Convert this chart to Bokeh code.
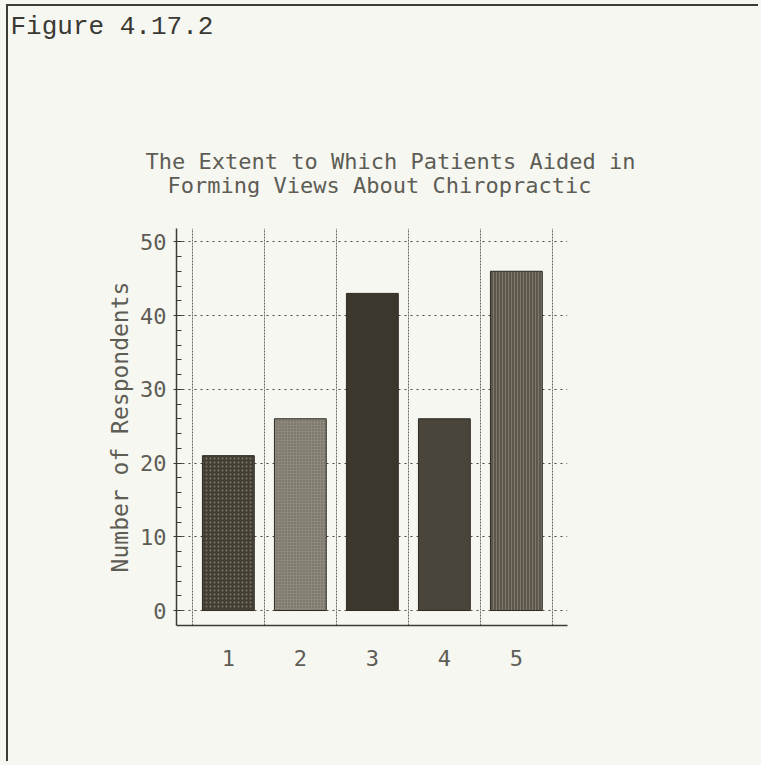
from bokeh.plotting import figure
from bokeh.layouts import column
from bokeh.models import FixedTicker, Title, ColumnDataSource, Range1d
from bokeh.embed import file_html
from bokeh.resources import INLINE

# ---- data ----
categories = [1, 2, 3, 4, 5]
respondents = [21, 26, 43, 26, 46]
y_ticks = [0, 10, 20, 30, 40, 50]
x_tick_labels = ["1", "2", "3", "4", "5"]
title_lines = ["The Extent to Which Patients Aided in", "Forming Views About Chiropractic"]
figure_label = "Figure 4.17.2"
y_label = "Number of Respondents"

# ---- styles ----
bar_fill = ["#433e34", "#8e897d", "#3b372d", "#4a453a", "#5d574b"]
bar_hatch = ["dot", "dot", " ", " ", "vertical_line"]
bar_hatch_color = ["#a29d90", "#4a463c", "#3b372d", "#4a453a", "#958f82"]
bar_hatch_scale = [4, 3, 4, 4, 3]

BG = "#f7f7f2"
INK = "#3c3a32"
TXT = "#5e5d55"
MONO = "DejaVu Sans Mono"
TSIZE = 22
CHAR = 0.602 * TSIZE          # advance of the monospace font
FRAME_LEFT_PAGE = 176

W = 750
HEAD_H = 122                  # header strip (page y 6 .. 128)
H = 633                       # chart part (page y 128 .. 761)
FL, FT, FW, FH = 168, 100, 391, 397
X0, X1 = 0.28, 5.71
Y0, Y1 = -2.03, 51.8

# ---------------- header strip: "Figure 4.17.2" ----------------
head = figure(width=W, height=HEAD_H, output_backend="svg", toolbar_location=None,
              x_range=Range1d(0, 1), y_range=Range1d(0, 1),
              x_axis_location=None, y_axis_location=None,
              min_border_left=FL, min_border_right=W - FL - FW,
              min_border_top=0, min_border_bottom=0)
head.background_fill_color = BG
head.border_fill_color = BG
head.outline_line_color = None
head.xgrid.visible = False
head.ygrid.visible = False
head.add_layout(Title(text=figure_label, align="left", standoff=6,
                      offset=10 - FRAME_LEFT_PAGE, vertical_align="bottom",
                      text_font="Liberation Mono", text_font_size="26px",
                      text_font_style="normal", text_color="#3a3934"), "above")

# ---------------- chart ----------------
p = figure(width=W, height=H, output_backend="svg", toolbar_location=None,
           x_range=Range1d(X0, X1), y_range=Range1d(Y0, Y1),
           min_border_left=FL, min_border_top=FT,
           min_border_right=W - FL - FW, min_border_bottom=H - FT - FH)
p.background_fill_color = BG
p.border_fill_color = BG
p.outline_line_color = None

src = ColumnDataSource(dict(x=categories, top=respondents, fill=bar_fill,
                            hatch=bar_hatch, hcol=bar_hatch_color, hscale=bar_hatch_scale))
p.vbar(x="x", top="top", bottom=0, width=0.72, source=src,
       fill_color="fill", line_color="#2e2b24", line_width=1,
       hatch_pattern="hatch", hatch_color="hcol", hatch_scale="hscale",
       hatch_weight=1, hatch_alpha=0.6)

xax = p.xaxis[0]
yax = p.yaxis[0]

xax.ticker = FixedTicker(ticks=categories)
xax.major_label_overrides = {c: t for c, t in zip(categories, x_tick_labels)}
xax.major_tick_in = 0
xax.major_tick_out = 0
xax.minor_tick_line_color = None
xax.major_label_standoff = 24
xax.axis_line_color = INK
xax.axis_line_width = 1.5

minor = [v for v in range(2, 50, 2) if v % 10 != 0]
yax.ticker = FixedTicker(ticks=y_ticks, minor_ticks=minor)
yax.major_tick_in = 6
yax.major_tick_out = 3
yax.minor_tick_in = 5
yax.minor_tick_out = 0
yax.major_tick_line_color = INK
yax.minor_tick_line_color = INK
yax.major_label_standoff = 7
yax.axis_line_color = INK
yax.axis_line_width = 1.5
yax.axis_label = y_label
yax.axis_label_standoff = 4

for ax in (xax, yax):
    ax.major_label_text_font = MONO
    ax.major_label_text_font_size = f"{TSIZE}px"
    ax.major_label_text_color = TXT
    ax.axis_label_text_font = MONO
    ax.axis_label_text_font_size = "23px"
    ax.axis_label_text_font_style = "normal"
    ax.axis_label_text_color = TXT

p.xgrid.ticker = FixedTicker(ticks=[c - 0.5 for c in categories] + [categories[-1] + 0.5])
p.xgrid.grid_line_color = "#6a675e"
p.xgrid.grid_line_dash = "2 1"
p.xgrid.grid_line_width = 1
p.ygrid.ticker = FixedTicker(ticks=y_ticks)
p.ygrid.grid_line_color = "#4a483f"
p.ygrid.grid_line_dash = "2 4"
p.ygrid.grid_line_width = 1

# two title lines above the frame (nearest first)
p.add_layout(Title(text=title_lines[1], align="left", standoff=62, vertical_align="bottom",
                   offset=379 - len(title_lines[1]) * CHAR / 2 - FRAME_LEFT_PAGE,
                   text_font=MONO, text_font_size=f"{TSIZE}px", text_font_style="normal",
                   text_color=TXT), "above")
p.add_layout(Title(text=title_lines[0], align="left", standoff=-69, vertical_align="bottom",
                   offset=390 - len(title_lines[0]) * CHAR / 2 - FRAME_LEFT_PAGE,
                   text_font=MONO, text_font_size=f"{TSIZE}px", text_font_style="normal",
                   text_color=TXT), "above")

layout = column(head, p, spacing=0)
layout.styles = {"margin-left": "6px", "margin-top": "4px",
                 "border-left": "2px solid #3c3c34", "border-top": "2px solid #3c3c34",
                 "outline": "10px solid " + BG, "background-color": BG}

open("out.html", "w").write(file_html(layout, INLINE))
